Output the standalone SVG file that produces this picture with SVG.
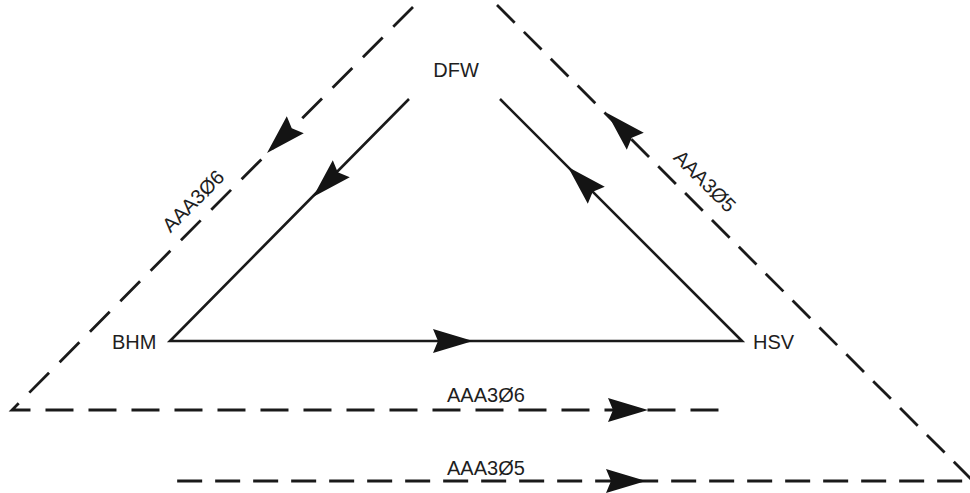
<svg xmlns="http://www.w3.org/2000/svg" width="970" height="493" viewBox="0 0 970 493">
  <style>
    .route { fill: none; stroke: #1a1a1a; stroke-width: 2.6; }
    .dash1 { fill: none; stroke: #1a1a1a; stroke-width: 2.8; stroke-dasharray: 28 15; }
    .dash2 { fill: none; stroke: #1a1a1a; stroke-width: 2.8; stroke-dasharray: 25 13; }
    .lbl { font-family: "Liberation Sans", Arial, sans-serif; font-size: 20px; fill: #1e1e1e; }
    .head { fill: #141414; }
  </style>
  <defs>
    <!-- arrowhead with its tip at the origin, pointing along +x -->
    <path id="ah" class="head" d="M0,0 L-40,-12 L-35,0 L-40,12 Z"/>
  </defs>

  <rect width="970" height="493" fill="#ffffff"/>

  <g id="connectors">
    <!-- solid legs between airports -->
    <path class="route" d="M409,99 L170,341 L742,341 L500,99"/>
    <!-- outer dashed AAA306 route -->
    <path class="dash1" d="M413,7 L12,410 L725,410"/>
    <!-- outer dashed AAA305 route -->
    <path class="dash2" d="M497,5 L973,481 L170,481"/>

    <use href="#ah" transform="translate(473,341)"/>
    <use href="#ah" transform="translate(313,197) rotate(135)"/>
    <use href="#ah" transform="translate(568,167) rotate(-135)"/>
    <use href="#ah" transform="translate(267,153) rotate(135)"/>
    <use href="#ah" transform="translate(607,113) rotate(-135)"/>
    <use href="#ah" transform="translate(648,410)"/>
    <use href="#ah" transform="translate(646,481)"/>
  </g>

  <g id="DFW"><text class="lbl" x="456" y="77" text-anchor="middle">DFW</text></g>
  <g id="BHM"><text class="lbl" x="112" y="349">BHM</text></g>
  <g id="HSV"><text class="lbl" x="753" y="349">HSV</text></g>

  <g id="labels">
    <text class="lbl" x="198" y="206" text-anchor="middle" transform="rotate(-45 198 206)">AAA3Ø6</text>
    <text class="lbl" x="700" y="186" text-anchor="middle" transform="rotate(45 700 186)">AAA3Ø5</text>
    <text class="lbl" x="447" y="402">AAA3Ø6</text>
    <text class="lbl" x="447" y="475">AAA3Ø5</text>
  </g>
</svg>
